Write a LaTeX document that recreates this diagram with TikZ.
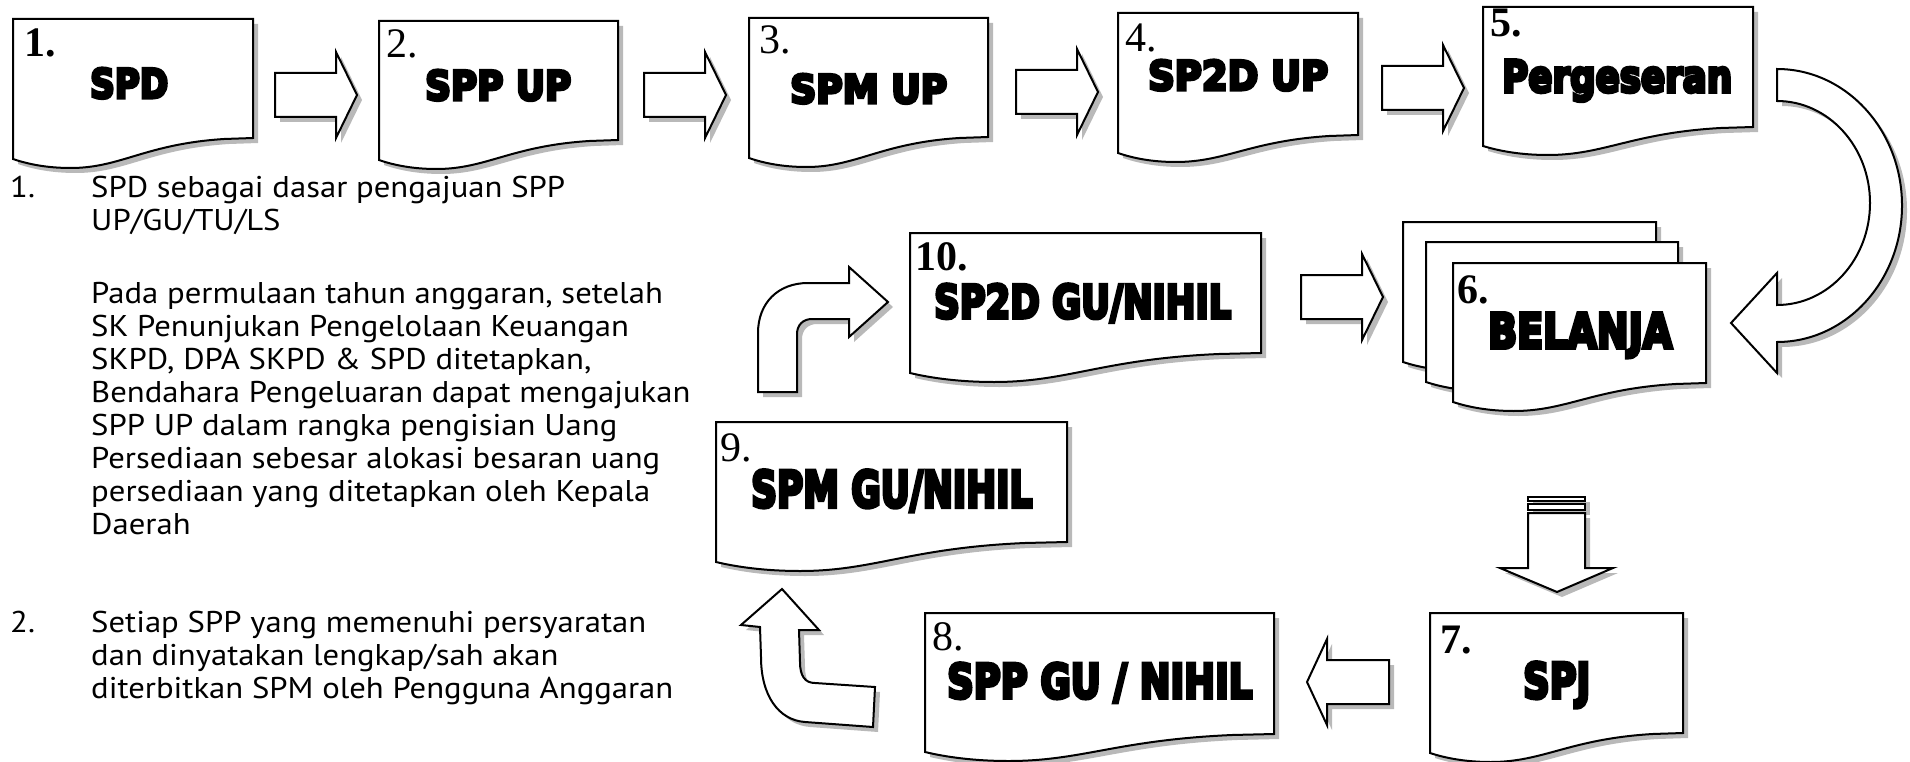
\documentclass[tikz,border=0pt]{standalone}
\usepackage{fontspec}
\usepackage{graphicx}
\setmainfont{PT Sans}[FakeStretch=1.09]
\newfontfamily\numfont{Liberation Serif}
\newfontfamily\heavyfont{DejaVu Sans}[BoldFeatures={FakeBold=8}]

\tikzset{
  outline/.style={draw=black, line width=2pt, fill=white, line join=miter},
  shade/.style={fill=gray!55, draw=none},
  num/.style={anchor=base west, inner sep=0pt, font=\numfont\fontsize{42}{42}\selectfont},
  title/.style={anchor=base west, inner sep=0pt},
  body/.style={anchor=base west, inner sep=0pt, font=\fontsize{30}{34}\selectfont},
}

% heavy condensed caption: width, cap height, text
\newcommand\heavy[3]{\resizebox{#1pt}{#2pt}{\heavyfont\bfseries #3}}

% document sheet with wavy bottom: left, top, right, right-bottom, left-bottom
\newcommand\docsheet[5]{%
  \fill[shade, shift={(5,5)}] (#1,#2) -- (#3,#2) -- (#3,#4)
    -- ({#3-0.12*(#3-#1)},{#4+1})
    .. controls ({#3-0.45*(#3-#1)},{#4+6}) and ({#1+0.45*(#3-#1)},{#5+9}) .. ({#1+0.24*(#3-#1)},{#5+9})
    .. controls ({#1+0.14*(#3-#1)},{#5+9}) and ({#1+0.06*(#3-#1)},{#5+5}) .. (#1,#5) -- cycle;
  \draw[outline] (#1,#2) -- (#3,#2) -- (#3,#4)
    -- ({#3-0.12*(#3-#1)},{#4+1})
    .. controls ({#3-0.45*(#3-#1)},{#4+6}) and ({#1+0.45*(#3-#1)},{#5+9}) .. ({#1+0.24*(#3-#1)},{#5+9})
    .. controls ({#1+0.14*(#3-#1)},{#5+9}) and ({#1+0.06*(#3-#1)},{#5+5}) .. (#1,#5) -- cycle;}

% block arrow pointing right: tail x, centre y
\newcommand\rightblock[2]{%
  \fill[shade, shift={(5,5)}] (#1,{#2-22}) -- ({#1+61},{#2-22}) -- ({#1+61},{#2-43}) -- ({#1+82},#2)
    -- ({#1+61},{#2+43}) -- ({#1+61},{#2+22}) -- (#1,{#2+22}) -- cycle;
  \draw[outline] (#1,{#2-22}) -- ({#1+61},{#2-22}) -- ({#1+61},{#2-43}) -- ({#1+82},#2)
    -- ({#1+61},{#2+43}) -- ({#1+61},{#2+22}) -- (#1,{#2+22}) -- cycle;}

% block arrow pointing left: tip x, centre y
\newcommand\leftblock[2]{%
  \fill[shade, shift={(5,5)}] ({#1+82},{#2-22}) -- ({#1+20},{#2-22}) -- ({#1+20},{#2-43}) -- (#1,#2)
    -- ({#1+20},{#2+43}) -- ({#1+20},{#2+22}) -- ({#1+82},{#2+22}) -- cycle;
  \draw[outline] ({#1+82},{#2-22}) -- ({#1+20},{#2-22}) -- ({#1+20},{#2-43}) -- (#1,#2)
    -- ({#1+20},{#2+43}) -- ({#1+20},{#2+22}) -- ({#1+82},{#2+22}) -- cycle;}

\begin{document}
\begin{tikzpicture}[x=1pt, y=-1pt]
\useasboundingbox (0,0) rectangle (1910,762);

% ---- top row ----
\docsheet{13}{19}{253}{138}{159}
\docsheet{379}{21}{618}{140}{160}
\docsheet{749}{18}{988}{137}{158}
\docsheet{1118}{13}{1358}{135}{153}
\docsheet{1483}{7}{1753}{127}{146}

\rightblock{275}{95}
\rightblock{644}{95}
\rightblock{1016}{92}
\rightblock{1382}{88}

% ---- stacked BELANJA sheets ----
\docsheet{1403}{222}{1656}{342}{362}
\docsheet{1426}{242}{1678}{362}{382}
\docsheet{1453}{263}{1706}{383}{402}

% ---- lower loop ----
\docsheet{910}{233}{1261}{353}{373}
\docsheet{716}{422}{1067}{542}{562}
\docsheet{925}{613}{1274}{734}{752}
\docsheet{1430}{613}{1683}{733}{753}

\rightblock{1301}{297}
\leftblock{1307}{682}

% curved arrow from Pergeseran down to BELANJA
\fill[shade, shift={(5,5)}] (1777,69) .. controls (1846,69) and (1902,130.1) .. (1902,205.5)
  .. controls (1902,280.9) and (1846,342) .. (1777,342) -- (1777,373) -- (1731,323) -- (1777,273)
  -- (1777,305) .. controls (1828.4,305) and (1870,259.3) .. (1870,203)
  .. controls (1870,146.7) and (1828.4,101) .. (1777,101) -- cycle;
\draw[outline] (1777,69) .. controls (1846,69) and (1902,130.1) .. (1902,205.5)
  .. controls (1902,280.9) and (1846,342) .. (1777,342) -- (1777,373) -- (1731,323) -- (1777,273)
  -- (1777,305) .. controls (1828.4,305) and (1870,259.3) .. (1870,203)
  .. controls (1870,146.7) and (1828.4,101) .. (1777,101) -- cycle;

% striped arrow from BELANJA down to SPJ
\fill[shade, shift={(5,5)}] (1528,497) rectangle (1585,510);
\fill[shade, shift={(5,5)}] (1528,513) -- (1585,513) -- (1585,568) -- (1613,568) -- (1557,592)
  -- (1500,568) -- (1528,568) -- cycle;
\draw[outline] (1528,497) rectangle (1585,501);
\draw[outline] (1528,504) rectangle (1585,510);
\draw[outline] (1528,513) -- (1585,513) -- (1585,568) -- (1613,568) -- (1557,592)
  -- (1500,568) -- (1528,568) -- cycle;

% bent arrow from SPP GU / NIHIL up to SPM GU/NIHIL
\fill[shade, shift={(5,5)}] (782,589) -- (819,630) -- (799,630) -- (800,662)
  .. controls (800,676) and (805,683) .. (815,683) -- (875,687) -- (873,727) -- (805,722)
  .. controls (778,720) and (761,695) .. (761,657) -- (760,627) -- (741,625) -- cycle;
\draw[outline] (782,589) -- (819,630) -- (799,630) -- (800,662)
  .. controls (800,676) and (805,683) .. (815,683) -- (875,687) -- (873,727) -- (805,722)
  .. controls (778,720) and (761,695) .. (761,657) -- (760,627) -- (741,625) -- cycle;

% bent arrow from SPM GU/NIHIL up to SP2D GU/NIHIL
\fill[shade, shift={(5,5)}] (758,392) -- (758,333) .. controls (758,303) and (778,283) .. (808,283)
  -- (849,283) -- (849,267) -- (888,302) -- (849,337) -- (849,319) -- (812,319)
  .. controls (803,319) and (797,325) .. (797,334) -- (797,392) -- cycle;
\draw[outline] (758,392) -- (758,333) .. controls (758,303) and (778,283) .. (808,283)
  -- (849,283) -- (849,267) -- (888,302) -- (849,337) -- (849,319) -- (812,319)
  .. controls (803,319) and (797,325) .. (797,334) -- (797,392) -- cycle;

% ---- step numbers ----
\node[num] (n1) at (24,57) {\bfseries 1.};
\node[num] (n2) at (386,58) {2.};
\node[num] (n3) at (759,54) {3.};
\node[num] (n4) at (1125,52) {4.};
\node[num] (n5) at (1490,37) {\bfseries 5.};
\node[num] (n6) at (1457,303) {\bfseries 6.};
\node[num] (n7) at (1440,653) {\bfseries 7.};
\node[num] (n8) at (932,650) {8.};
\node[num] (n9) at (720,461) {9.};
\node[num] (n10) at (915,270) {\bfseries 10.};

% ---- step captions ----
\node[title] (t1) at (90,98) {\heavy{78}{30}{SPD}};
\node[title] (t2) at (425,100) {\heavy{146}{30}{SPP UP}};
\node[title] (t3) at (790,103) {\heavy{157}{29}{SPM UP}};
\node[title] (t4) at (1148,90) {\heavy{180}{30}{SP2D UP}};
\node[title] (t5) at (1502,92) {\heavy{230}{32}{Pergeseran}};
\node[title] (t6) at (1488,348) {\heavy{184}{35}{BELANJA}};
\node[title] (t10) at (934,318) {\heavy{297}{34}{SP2D GU/NIHIL}};
\node[title] (t9) at (751,507) {\heavy{281}{37}{SPM GU/NIHIL}};
\node[title] (t8) at (947,698) {\heavy{305}{35}{SPP GU / NIHIL}};
\node[title] (t7) at (1523,698) {\heavy{67}{36}{SPJ}};

% ---- explanatory notes ----
\node[body] (m1) at (10,197) {1.};
\node[body] (l1) at (91,197) {SPD sebagai dasar pengajuan SPP};
\node[body] (l2) at (91,230) {UP/GU/TU/LS};
\node[body] (l4) at (91,303) {Pada permulaan tahun anggaran, setelah};
\node[body] (l5) at (91,336) {SK Penunjukan Pengelolaan Keuangan};
\node[body] (l6) at (91,369) {SKPD, DPA SKPD \& SPD ditetapkan,};
\node[body] (l7) at (91,402) {Bendahara Pengeluaran dapat mengajukan};
\node[body] (l8) at (91,435) {SPP UP dalam rangka pengisian Uang};
\node[body] (l9) at (91,468) {Persediaan sebesar alokasi besaran uang};
\node[body] (l10) at (91,501) {persediaan yang ditetapkan oleh Kepala};
\node[body] (l11) at (91,534) {Daerah};
\node[body] (m2) at (10,632) {2.};
\node[body] (l13) at (91,632) {Setiap SPP yang memenuhi persyaratan};
\node[body] (l14) at (91,665) {dan dinyatakan lengkap/sah akan};
\node[body] (l15) at (91,698) {diterbitkan SPM oleh Pengguna Anggaran};
\end{tikzpicture}
\end{document}
